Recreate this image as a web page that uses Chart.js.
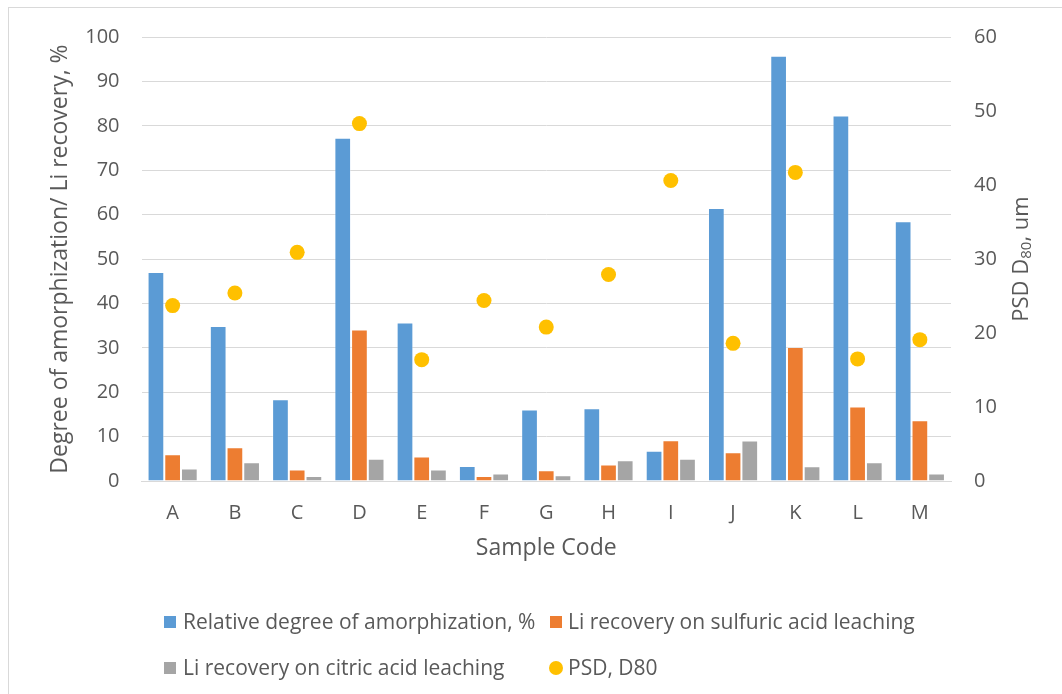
<!DOCTYPE html>
<html>
<head>
<meta charset="utf-8">
<script src="https://cdn.jsdelivr.net/npm/chart.js@4.4.1/dist/chart.umd.min.js"></script>
<style>
  html, body { margin: 0; padding: 0; background: #fff; }
  #wrap { position: relative; width: 1062px; height: 694px; overflow: hidden; }
  #frame { position: absolute; left: 8px; top: 7px; width: 1100px; height: 760px; border: 1px solid #d9d9d9; }
  #chart { position: absolute; left: 0; top: 0; }
  .leg { position: absolute; font: 21px "Open Sans", sans-serif; color: #595959; white-space: nowrap; line-height: 24px; height: 24px; }
  .leg i { position: absolute; top: 6px; width: 12px; height: 12px; }
  .leg i.dot { border-radius: 50%; width: 14px; height: 14px; top: 5px; }
  .leg span { position: absolute; top: -1px; }
</style>
</head>
<body>
<div id="wrap">
  <div id="frame"></div>
  <canvas id="chart" width="1062" height="694"></canvas>
  <div id="legend"></div>
</div>
<script>
// ---- data ----
const sampleCodes = ['A', 'B', 'C', 'D', 'E', 'F', 'G', 'H', 'I', 'J', 'K', 'L', 'M'];
const amorphization = [47.1, 34.9, 18.4, 77.3, 35.7, 3.4, 16.1, 16.4, 6.8, 61.5, 95.8, 82.3, 58.5];
const sulfuricRecovery = [6.0, 7.6, 2.6, 34.1, 5.5, 1.1, 2.4, 3.7, 9.2, 6.5, 30.2, 16.8, 13.7];
const citricRecovery = [2.8, 4.2, 1.1, 5.0, 2.6, 1.7, 1.3, 4.7, 5.0, 9.1, 3.3, 4.2, 1.7];
const psdD80 = [23.7, 25.4, 30.9, 48.3, 16.4, 24.4, 20.8, 27.9, 40.6, 18.6, 41.7, 16.5, 19.1];

const leftTicks = [0, 10, 20, 30, 40, 50, 60, 70, 80, 90, 100];
const rightTicks = [0, 10, 20, 30, 40, 50, 60];

const seriesLabels = [
  'Relative degree of amorphization, %',
  'Li recovery on sulfuric acid leaching',
  'Li recovery on citric acid leaching',
  'PSD, D80'
];
const seriesColors = ['#5b9bd5', '#ed7d31', '#a5a5a5', '#ffc000'];

// ---- chart ----
const textColor = '#595959';
const gridColor = '#d9d9d9';
const fontFamily = "'Open Sans', sans-serif";
const tickFont = { family: fontFamily, size: 20 };
const titleFont = { family: fontFamily, size: 23 };

function barSet(i, values) {
  return {
    label: seriesLabels[i],
    data: values,
    backgroundColor: seriesColors[i],
    borderColor: 'rgba(255,255,255,0.35)',
    borderWidth: 1,
    categoryPercentage: 0.805,
    barPercentage: 1.0,
    yAxisID: 'y',
    order: 1
  };
}

// right axis title reads bottom-to-top, with a subscript "80"
const rightTitle = {
  id: 'rightTitle',
  afterDraw(chart) {
    const s = chart.scales.y1;
    const ctx = chart.ctx;
    const big = '22px ' + fontFamily;
    const small = '15px ' + fontFamily;
    const parts = [['PSD D', big, 0], ['80', small, 5], [', um', big, 0]];
    ctx.save();
    let total = 0;
    parts.forEach(p => { ctx.font = p[1]; total += ctx.measureText(p[0]).width; });
    ctx.translate(s.right - 12, (chart.chartArea.top + chart.chartArea.bottom) / 2);
    ctx.rotate(-Math.PI / 2);
    ctx.fillStyle = textColor;
    ctx.textBaseline = 'middle';
    ctx.textAlign = 'left';
    let x = -total / 2;
    parts.forEach(p => {
      ctx.font = p[1];
      ctx.fillText(p[0], x, p[2]);
      x += ctx.measureText(p[0]).width;
    });
    ctx.restore();
  }
};

const chart = new Chart(document.getElementById('chart'), {
  type: 'bar',
  data: {
    labels: sampleCodes,
    datasets: [
      barSet(0, amorphization),
      barSet(1, sulfuricRecovery),
      barSet(2, citricRecovery),
      {
        type: 'line',
        label: seriesLabels[3],
        data: psdD80,
        showLine: false,
        pointRadius: 7.5,
        pointHoverRadius: 7.5,
        pointBackgroundColor: seriesColors[3],
        pointBorderWidth: 0,
        borderColor: seriesColors[3],
        backgroundColor: seriesColors[3],
        yAxisID: 'y1',
        order: 0
      }
    ]
  },
  options: {
    responsive: false,
    animation: false,
    layout: { padding: { left: 47, right: 28, top: 37, bottom: 132 } },
    plugins: {
      legend: { display: false },
      tooltip: { enabled: false }
    },
    scales: {
      x: {
        grid: { display: false, drawTicks: false },
        border: { display: true, color: gridColor, width: 1 },
        ticks: { color: textColor, font: tickFont, padding: 20 },
        title: { display: true, text: 'Sample Code', color: textColor, font: titleFont, padding: 0 },
        afterFit: s => { s.height = 81; }
      },
      y: {
        position: 'left',
        min: 0, max: 100,
        afterBuildTicks: s => { s.ticks = leftTicks.map(v => ({ value: v })); },
        grid: { color: gridColor, lineWidth: 1, drawTicks: false },
        border: { display: false },
        ticks: { color: textColor, font: tickFont, padding: 22 },
        title: { display: true, text: 'Degree of amorphization/ Li recovery, %', color: textColor, font: titleFont, padding: 0 },
        afterFit: s => { s.width = 94.5; }
      },
      y1: {
        position: 'right',
        min: 0, max: 60,
        afterBuildTicks: s => { s.ticks = rightTicks.map(v => ({ value: v })); },
        grid: { display: false, drawTicks: false },
        border: { display: false },
        ticks: { color: textColor, font: tickFont, padding: 23 },
        afterFit: s => { s.width = 83; }
      }
    }
  },
  plugins: [rightTitle]
});

// ---- legend (two columns) ----
const legendSlots = [
  { mark: 164, text: 183, top: 610 },
  { mark: 550, text: 568, top: 610 },
  { mark: 164, text: 183, top: 656 },
  { mark: 549, text: 568, top: 656 }
];
const legend = document.getElementById('legend');
chart.data.datasets.forEach((ds, i) => {
  const slot = legendSlots[i];
  const item = document.createElement('div');
  item.className = 'leg';
  item.style.left = '0px';
  item.style.top = slot.top + 'px';
  const mark = document.createElement('i');
  if (ds.type === 'line') mark.className = 'dot';
  mark.style.background = seriesColors[i];
  mark.style.left = slot.mark + 'px';
  const text = document.createElement('span');
  text.textContent = ds.label;
  text.style.left = slot.text + 'px';
  item.appendChild(mark);
  item.appendChild(text);
  legend.appendChild(item);
});
</script>
</body>
</html>
